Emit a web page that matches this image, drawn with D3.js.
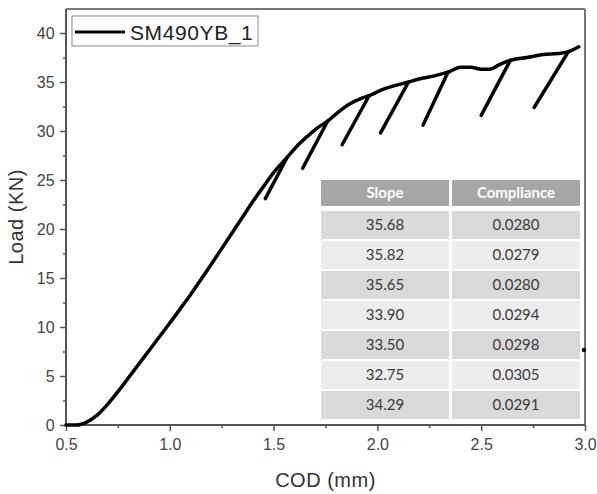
<!DOCTYPE html>
<html>
<head>
<meta charset="utf-8">
<script src="https://cdn.jsdelivr.net/npm/d3@7"></script>
<style>
  html, body { margin: 0; padding: 0; background: #fff; }
  svg { display: block; }
</style>
</head>
<body>
<svg id="chart" width="597" height="494"></svg>
<script>
// ---- data ----
const seriesName = "SM490YB_1";
// loading envelope
const envCod = [0.50, 0.55, 0.60, 0.65, 0.70, 0.75, 0.80, 0.85, 0.90, 0.95, 1.00, 1.05, 1.10, 1.15, 1.20, 1.25, 1.30,
  1.35, 1.40, 1.45, 1.50, 1.565, 1.61, 1.66, 1.71, 1.76, 1.81, 1.87, 1.92, 1.96, 2.02, 2.08, 2.15, 2.20, 2.27, 2.34,
  2.40, 2.45, 2.50, 2.54, 2.59, 2.64, 2.72, 2.80, 2.87, 2.92, 2.97];
const envLoad = [0.0, 0.0, 0.3, 1.0, 2.1, 3.4, 4.8, 6.2, 7.6, 9.0, 10.4, 11.85, 13.3, 14.85, 16.4, 18.0, 19.6,
  21.2, 22.8, 24.3, 25.75, 27.3, 28.4, 29.4, 30.3, 31.0, 31.9, 32.8, 33.3, 33.6, 34.2, 34.6, 35.0, 35.3, 35.6, 36.0,
  36.5, 36.5, 36.3, 36.3, 36.8, 37.2, 37.5, 37.8, 37.9, 38.1, 38.6];
// unloading / reloading lines: from peak down to lowest point
const unloadTopCod = [1.565, 1.76, 1.96, 2.15, 2.34, 2.64, 2.92];
const unloadTopLoad = [27.3, 31.0, 33.6, 35.0, 36.0, 37.2, 38.1];
const unloadBottomCod = [1.46, 1.64, 1.83, 2.015, 2.22, 2.50, 2.755];
const unloadBottomLoad = [23.1, 26.2, 28.6, 29.8, 30.6, 31.6, 32.4];
const strayPointCod = [3.0];
const strayPointLoad = [7.65];

const xTicks = [0.5, 1.0, 1.5, 2.0, 2.5, 3.0];
const xMinorTicks = [0.75, 1.25, 1.75, 2.25, 2.75];
const yTicks = [0, 5, 10, 15, 20, 25, 30, 35, 40];
const yMinorTicks = [2.5, 7.5, 12.5, 17.5, 22.5, 27.5, 32.5, 37.5];

const tableHeaders = ["Slope", "Compliance"];
const slopes = ["35.68", "35.82", "35.65", "33.90", "33.50", "32.75", "34.29"];
const compliances = ["0.0280", "0.0279", "0.0280", "0.0294", "0.0298", "0.0305", "0.0291"];

// ---- layout ----
const svg = d3.select("#chart");
const L = 66, R = 585, T = 9, B = 425;
const x = d3.scaleLinear().domain([0.5, 3.0]).range([L, R]);
const y = d3.scaleLinear().domain([0, 40]).range([B, 33]);
const axisColor = "#555";
const font = "'Liberation Sans', Arial, sans-serif";
const tfont = "Lato, 'Open Sans', sans-serif";

// frame (top & right)
svg.append("line").attr("x1", L).attr("x2", R).attr("y1", T).attr("y2", T)
  .attr("stroke", "#777").attr("stroke-width", 2);
svg.append("line").attr("x1", R).attr("x2", R).attr("y1", T).attr("y2", B)
  .attr("stroke", "#777").attr("stroke-width", 2);

// table
const tbl = svg.append("g");
const colX = [321, 452], colW = 128;
const headY = 180, headH = 26, rowY0 = 211, rowStep = 30, rowH = 28;
tableHeaders.forEach((h, i) => {
  tbl.append("rect").attr("x", colX[i]).attr("y", headY).attr("width", colW).attr("height", headH)
    .attr("fill", "#a6a6a6");
  tbl.append("text").attr("x", colX[i] + colW / 2).attr("y", headY + headH / 2 + 5)
    .attr("text-anchor", "middle").attr("fill", "#fff").attr("font-weight", "bold")
    .attr("font-family", tfont).attr("font-size", 15).text(h);
});
slopes.forEach((s, r) => {
  const fill = r % 2 === 0 ? "#d9d9d9" : "#ececec";
  [s, compliances[r]].forEach((v, i) => {
    tbl.append("rect").attr("x", colX[i]).attr("y", rowY0 + r * rowStep).attr("width", colW).attr("height", rowH)
      .attr("fill", fill);
    tbl.append("text").attr("x", colX[i] + colW / 2).attr("y", rowY0 + r * rowStep + rowH / 2 + 5)
      .attr("text-anchor", "middle").attr("fill", "#3a3a3a")
      .attr("font-family", tfont).attr("font-size", 15).text(v);
  });
});

// axes
const xAxis = svg.append("g").attr("transform", `translate(0,${B})`)
  .call(d3.axisBottom(x).tickValues(xTicks).tickSize(6).tickSizeOuter(0).tickFormat(d3.format(".1f")));
const xMinor = svg.append("g").attr("transform", `translate(0,${B})`)
  .call(d3.axisBottom(x).tickValues(xMinorTicks).tickSize(3).tickSizeOuter(0).tickFormat(""));
const yAxis = svg.append("g").attr("transform", `translate(${L},0)`)
  .call(d3.axisLeft(y).tickValues(yTicks).tickSize(6).tickSizeOuter(0));
const yMinor = svg.append("g").attr("transform", `translate(${L},0)`)
  .call(d3.axisLeft(y).tickValues(yMinorTicks).tickSize(3).tickSizeOuter(0).tickFormat(""));
[xMinor, yMinor].forEach(g => g.select(".domain").remove());
[xAxis, yAxis, xMinor, yMinor].forEach(g => {
  g.selectAll("line").attr("stroke", axisColor).attr("stroke-width", 1.5);
  g.selectAll(".domain").attr("stroke", axisColor).attr("stroke-width", 2);
  g.selectAll("text").attr("fill", "#444").attr("font-family", font).attr("font-size", 16);
});
xAxis.select(".domain").attr("d", `M${L},0H${R}`);
yAxis.select(".domain").attr("d", `M0,${B}V${T}`);
xAxis.selectAll("text").attr("dy", "1.0em");
yAxis.selectAll("text").attr("dx", "-0.15em");

// axis titles
svg.append("text").attr("x", (L + R) / 2).attr("y", 487).attr("text-anchor", "middle")
  .attr("font-family", font).attr("font-size", 20).attr("letter-spacing", 0.5).attr("fill", "#333").text("COD (mm)");
svg.append("text").attr("transform", `translate(23,217) rotate(-90)`).attr("text-anchor", "middle")
  .attr("font-family", font).attr("font-size", 20).attr("letter-spacing", 0.5).attr("fill", "#333").text("Load (KN)");

// curve: envelope (smooth) + unloading lines
const stroke = g => g.attr("fill", "none").attr("stroke", "#000").attr("stroke-width", 3.5)
  .attr("stroke-linejoin", "round").attr("stroke-linecap", "round");
const env = envCod.map((c, i) => [c, envLoad[i]]);
svg.append("path").datum(env)
  .attr("d", d3.line().x(d => x(d[0])).y(d => y(d[1])).curve(d3.curveMonotoneX)).call(stroke);
const unloads = unloadTopCod.map((c, i) => [[c, unloadTopLoad[i]], [unloadBottomCod[i], unloadBottomLoad[i]]]);
svg.selectAll(".unload").data(unloads).enter().append("path").attr("class", "unload")
  .attr("d", d3.line().x(d => x(d[0])).y(d => y(d[1]))).call(stroke);
svg.selectAll(".stray").data(strayPointCod.map((c, i) => [c, strayPointLoad[i]])).enter()
  .append("circle").attr("cx", d => x(d[0]) - 1).attr("cy", d => y(d[1])).attr("r", 2.2).attr("fill", "#000");

// legend
const lg = svg.append("g");
lg.append("rect").attr("x", 72).attr("y", 16).attr("width", 186).attr("height", 30)
  .attr("fill", "#fff").attr("stroke", "#888").attr("stroke-width", 1);
lg.append("line").attr("x1", 75).attr("x2", 125).attr("y1", 32).attr("y2", 32)
  .attr("stroke", "#000").attr("stroke-width", 3);
lg.append("text").attr("x", 130).attr("y", 39.5).attr("font-family", font).attr("font-size", 21)
  .attr("letter-spacing", 0.6).attr("fill", "#222").text(seriesName);
</script>
</body>
</html>
